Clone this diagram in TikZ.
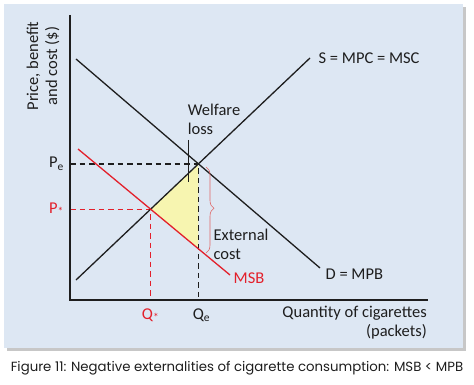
\documentclass[tikz,border=0pt]{standalone}
\usepackage{fontspec}
\setmainfont{Carlito}
\newfontfamily\capfont{Poppins}
\usetikzlibrary{decorations.pathreplacing}
\definecolor{panel}{HTML}{DDE7F3}
\definecolor{msbred}{HTML}{E3202B}
\definecolor{lossfill}{HTML}{F7F5B0}
\definecolor{bracered}{HTML}{E06666}
\definecolor{ink}{HTML}{1E1E1E}
\begin{document}
\begin{tikzpicture}[x=1pt, y=-1pt,
    curve/.style={ink, line width=1.3pt},
    guide/.style={dash pattern=on 5.5pt off 4pt, line width=1.4pt},
    lbl/.style={inner sep=0pt, text=ink, font=\fontsize{16.5}{19}\selectfont}]
  \useasboundingbox (0,0) rectangle (474,385);
  \fill[black!22] (7,7) rectangle (466,351);
  \fill[panel] (4,4) rectangle (463,348);

  \coordinate (O) at (70,300);
  \coordinate (ytop) at (70,15);
  \coordinate (xend) at (428,300);
  \coordinate (D1) at (76,59);
  \coordinate (D2) at (320,268);
  \coordinate (S1) at (76,280);
  \coordinate (S2) at (310,58);
  \coordinate (M1) at (78,149);
  \coordinate (M2) at (230,275);
  \coordinate (E) at (intersection of D1--D2 and S1--S2);
  \coordinate (Opt) at (intersection of M1--M2 and S1--S2);
  \coordinate (Eo) at (E |- O);
  \coordinate (Em) at (intersection of M1--M2 and E--Eo);

  \fill[lossfill] (Opt) -- (E) -- (Em) -- cycle;
  \draw[guide, ink] (O |- E) -- (E) -- (Eo);
  \draw[guide, msbred] (O |- Opt) -- (Opt) -- (Opt |- O);

  \draw[curve] (D1) -- (D2) node[lbl, anchor=west, xshift=5pt, yshift=-6pt] (dlab) {D = MPB};
  \draw[curve] (S1) -- (S2) node[lbl, anchor=west, xshift=8pt] (slab) {S = MPC = MSC};
  \draw[curve, msbred] (M1) -- (M2) node[lbl, text=msbred, anchor=west, xshift=3pt, yshift=-3pt] (mlab) {MSB};
  \draw[ink, line width=1.5pt] (ytop) -- (O) -- (xend);

  \node[lbl, anchor=east] (pe) at ([xshift=-6pt]O |- E) {P\textsubscript{e}};
  \node[lbl, text=msbred, anchor=east] (pstar) at ([xshift=-6pt]O |- Opt) {P\textsubscript{*}};
  \node[lbl, text=msbred] (qstar) at ([yshift=-15pt]Opt |- O) {Q\textsubscript{*}};
  \node[lbl] (qe) at ([xshift=3pt, yshift=-15pt]Eo) {Q\textsubscript{e}};

  \node[lbl, align=left] (wl) at (214,119) {Welfare\\loss};
  \coordinate (wltop) at (188,140);
  \coordinate (wltip) at (188,182);
  \draw[ink, line width=0.8pt] (wltop) -- (wltip);

  \coordinate (brtop) at (206,167);
  \coordinate (brbot) at (206,253);
  \draw[bracered, line width=0.6pt, decorate, decoration={brace, amplitude=8pt, aspect=0.48}] (brtop) -- (brbot);
  \node[lbl, align=left] (ext) at (241,244) {External\\cost};

  \node[lbl, align=right, anchor=east] (xlab) at (427,323) {Quantity of cigarettes\\(packets)};
  \node[lbl, align=center, rotate=90] (ylab) at (43,66) {Price, benefit\\and cost (\$)};

  \node[inner sep=0pt, text=ink, font=\capfont\fontsize{13.3}{16}\selectfont] (cap) at (237,368) {Figure 11: Negative externalities of cigarette consumption: MSB < MPB};
\end{tikzpicture}
\end{document}
